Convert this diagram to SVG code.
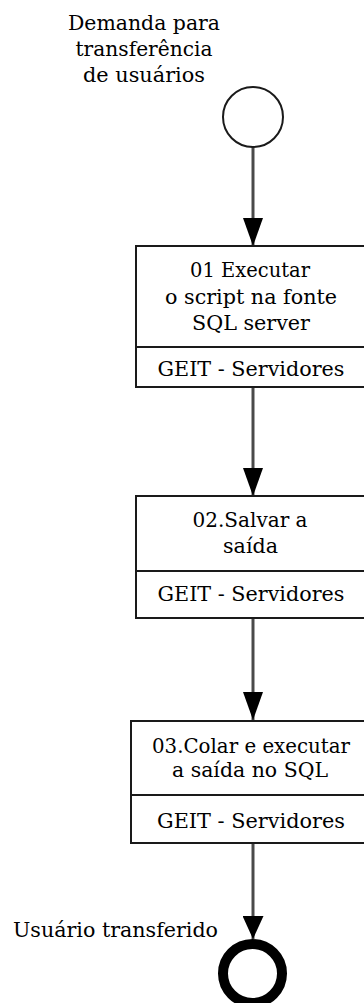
<svg xmlns="http://www.w3.org/2000/svg" width="364" height="1003" viewBox="0 0 364 1003">
<style>
text{font-family:"DejaVu Serif","Liberation Serif",serif;font-size:21px;fill:#000;text-anchor:middle}
.box{fill:#fff;stroke:#1a1a1a;stroke-width:2}
.div{stroke:#1a1a1a;stroke-width:2}
.flow{fill:none;stroke:#4a4a4a;stroke-width:3}
</style>
<defs>
<marker id="arr" markerUnits="userSpaceOnUse" viewBox="0 0 28 20" markerWidth="28" markerHeight="20" refX="28" refY="10" orient="auto">
<path d="M0,0 L28,10 L0,20 z" fill="#000"/>
</marker>
<marker id="arr2" markerUnits="userSpaceOnUse" viewBox="0 0 23 21" markerWidth="23" markerHeight="21" refX="23" refY="10.5" orient="auto">
<path d="M0,0 L23,10.5 L0,21 z" fill="#000"/>
</marker>
</defs>
<g id="connectors">
<line class="flow" x1="253" y1="147" x2="253" y2="246" marker-end="url(#arr)"/>
<line class="flow" x1="253" y1="387" x2="253" y2="496" marker-end="url(#arr)"/>
<line class="flow" x1="253" y1="618" x2="253" y2="720" marker-end="url(#arr)"/>
<line class="flow" x1="253" y1="843" x2="253" y2="939" marker-end="url(#arr2)"/>
</g>
<g id="start">
<circle cx="253" cy="117" r="30" fill="#fff" stroke="#1a1a1a" stroke-width="2"/>
<text x="144" y="30" textLength="152" lengthAdjust="spacingAndGlyphs">Demanda para</text>
<text x="144" y="56" textLength="137" lengthAdjust="spacingAndGlyphs">transferência</text>
<text x="144" y="82" textLength="122" lengthAdjust="spacingAndGlyphs">de usuários</text>
</g>
<g id="task1">
<rect class="box" x="136" y="246" width="234" height="141"/>
<line class="div" x1="136" y1="347" x2="370" y2="347"/>
<text x="250" y="277" textLength="120" lengthAdjust="spacingAndGlyphs">01 Executar</text>
<text x="251" y="304" textLength="172" lengthAdjust="spacingAndGlyphs">o script na fonte</text>
<text x="251" y="330" textLength="118" lengthAdjust="spacingAndGlyphs">SQL server</text>
<text x="251" y="376" textLength="187" lengthAdjust="spacingAndGlyphs">GEIT - Servidores</text>
</g>
<g id="task2">
<rect class="box" x="136" y="496" width="234" height="122"/>
<line class="div" x1="136" y1="571" x2="370" y2="571"/>
<text x="250" y="527" textLength="115" lengthAdjust="spacingAndGlyphs">02.Salvar a</text>
<text x="250.5" y="553" textLength="55" lengthAdjust="spacingAndGlyphs">saída</text>
<text x="251" y="601" textLength="187" lengthAdjust="spacingAndGlyphs">GEIT - Servidores</text>
</g>
<g id="task3">
<rect class="box" x="131" y="721" width="240" height="122"/>
<line class="div" x1="131" y1="795" x2="371" y2="795"/>
<text x="251" y="753" textLength="198" lengthAdjust="spacingAndGlyphs">03.Colar e executar</text>
<text x="250" y="777" textLength="156" lengthAdjust="spacingAndGlyphs">a saída no SQL</text>
<text x="251" y="828" textLength="188" lengthAdjust="spacingAndGlyphs">GEIT - Servidores</text>
</g>
<g id="end">
<circle cx="252.5" cy="973.5" r="29.5" fill="#fff" stroke="#000" stroke-width="10"/>
<text x="115.5" y="937" textLength="205" lengthAdjust="spacingAndGlyphs">Usuário transferido</text>
</g>
</svg>
